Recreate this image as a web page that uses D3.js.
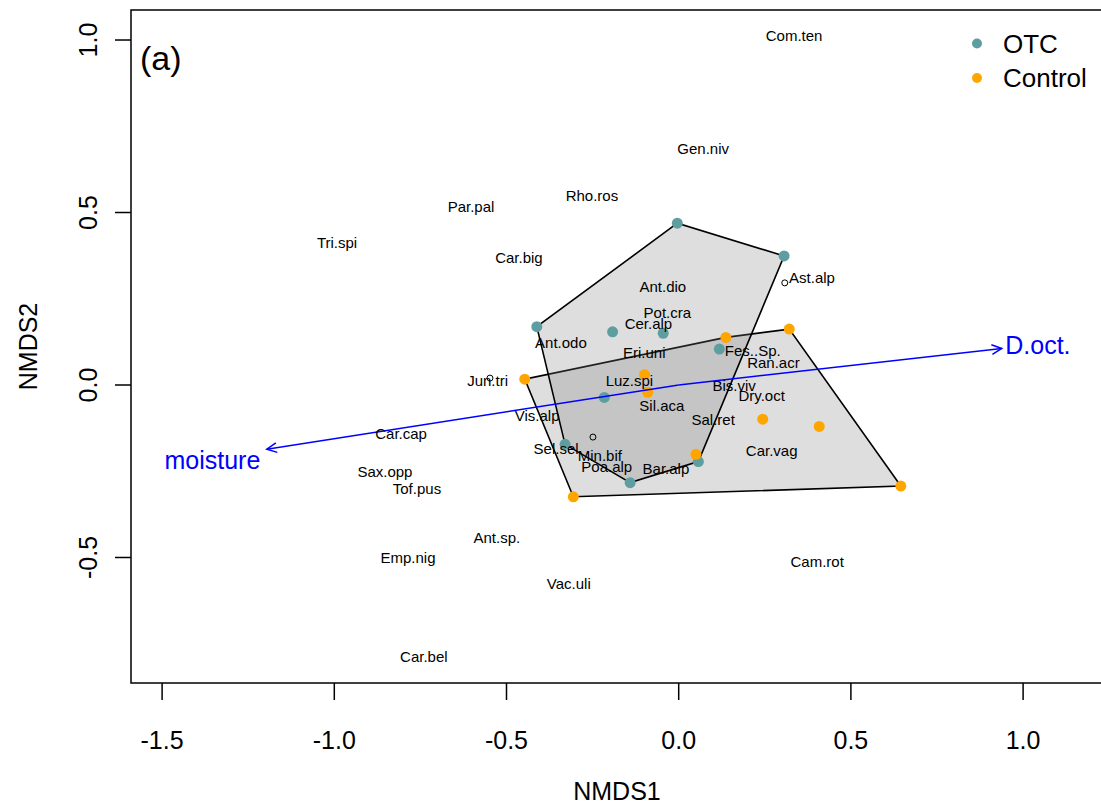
<!DOCTYPE html>
<html>
<head>
<meta charset="utf-8">
<script src="https://cdn.jsdelivr.net/npm/d3@7"></script>
<style>
  html, body { margin: 0; padding: 0; background: #fff; }
  svg { display: block; font-family: "Liberation Sans", Arial, sans-serif; }
</style>
</head>
<body>
<svg id="chart" width="1101" height="805"></svg>
<script>
// ---- data ----
const xTicks = [-1.5, -1.0, -0.5, 0.0, 0.5, 1.0];
const yTicks = [-0.5, 0.0, 0.5, 1.0];

const otcSites = [
  [-0.004, 0.469], [0.306, 0.374], [-0.412, 0.169], [-0.192, 0.154],
  [-0.045, 0.150], [0.118, 0.104], [-0.216, -0.036], [-0.330, -0.172],
  [-0.141, -0.283], [0.057, -0.222]
];
const controlSites = [
  [-0.447, 0.017], [-0.099, 0.030], [-0.090, -0.021], [0.137, 0.138],
  [0.321, 0.162], [0.244, -0.099], [0.408, -0.120], [0.050, -0.201],
  [-0.306, -0.324], [0.645, -0.293]
];

const speciesNames = ["Com.ten","Gen.niv","Rho.ros","Par.pal","Tri.spi","Car.big","Ast.alp",
  "Ant.dio","Pot.cra","Cer.alp","Ant.odo","Eri.uni","Fes..Sp.","Ran.acr","Jun.tri","Luz.spi",
  "Bis.viv","Dry.oct","Sil.aca","Vis.alp","Sal.ret","Car.cap","Sel.sel","Min.bif","Poa.alp",
  "Bar.alp","Car.vag","Sax.opp","Tof.pus","Ant.sp.","Emp.nig","Vac.uli","Cam.rot","Car.bel"];
const speciesX = [0.335,0.071,-0.252,-0.603,-0.992,-0.464,0.387,
  -0.046,-0.033,-0.088,-0.342,-0.100,0.215,0.275,-0.555,-0.143,
  0.161,0.241,-0.049,-0.411,0.100,-0.806,-0.356,-0.229,-0.209,
  -0.037,0.270,-0.853,-0.760,-0.528,-0.786,-0.319,0.402,-0.740];
const speciesY = [1.014,0.684,0.548,0.516,0.412,0.368,0.310,
  0.284,0.211,0.179,0.124,0.094,0.101,0.066,0.012,0.012,
  -0.002,-0.031,-0.061,-0.090,-0.099,-0.142,-0.183,-0.206,-0.237,
  -0.241,-0.190,-0.252,-0.299,-0.443,-0.499,-0.577,-0.513,-0.788];

const openPoints = [[0.308, 0.296], [-0.548, 0.020], [-0.249, -0.151]];

const envNames = ["D.oct.", "moisture"];
const envArrow = [[0.938, 0.106], [-1.196, -0.186]];
const envLabel = [[1.043, 0.116], [-1.354, -0.217]];

const legendLabels = ["OTC", "Control"];
const groupColors = ["#5F9EA0", "#FFA500"];

// ---- layout ----
const svg = d3.select("#chart");
const pL = 131, pR = 1103, pT = 10, pB = 683;
const x = d3.scaleLinear().domain([-1.5903, 1.2320]).range([pL, pR]);
const y = d3.scaleLinear().domain([-0.8638, 1.0870]).range([pB, pT]);

// hulls: control first, then OTC
[controlSites, otcSites].forEach(pts => {
  const hull = d3.polygonHull(pts.map(p => [x(p[0]), y(p[1])]));
  svg.append("path")
    .attr("d", "M" + hull.map(p => p.join(",")).join("L") + "Z")
    .attr("fill", "#808080").attr("fill-opacity", 0.26)
    .attr("stroke", "#000").attr("stroke-width", 1.6);
});

// site points
[[otcSites, groupColors[0]], [controlSites, groupColors[1]]].forEach(([pts, c]) => {
  svg.append("g").selectAll("circle").data(pts).join("circle")
    .attr("cx", d => x(d[0])).attr("cy", d => y(d[1]))
    .attr("r", 5.5).attr("fill", c);
});

// open points
svg.append("g").selectAll("circle").data(openPoints).join("circle")
  .attr("cx", d => x(d[0])).attr("cy", d => y(d[1]))
  .attr("r", 3).attr("fill", "none").attr("stroke", "#000").attr("stroke-width", 1);

// env arrows
const ag = svg.append("g").attr("stroke", "#0000FF").attr("stroke-width", 1.5).attr("fill", "none");
envArrow.forEach(a => {
  const x0 = x(0), y0 = y(0), x1 = x(a[0]), y1 = y(a[1]);
  ag.append("line").attr("x1", x0).attr("y1", y0).attr("x2", x1).attr("y2", y1);
  const ang = Math.atan2(y1 - y0, x1 - x0), L = 11, h = Math.PI / 7;
  const p1 = [x1 - L * Math.cos(ang - h), y1 - L * Math.sin(ang - h)];
  const p2 = [x1 - L * Math.cos(ang + h), y1 - L * Math.sin(ang + h)];
  ag.append("path").attr("d", `M${p1}L${x1},${y1}L${p2}`);
});
svg.append("g").selectAll("text").data(envNames).join("text")
  .attr("x", (d, i) => x(envLabel[i][0])).attr("y", (d, i) => y(envLabel[i][1]))
  .attr("dy", "0.36em").attr("text-anchor", "middle")
  .attr("font-size", 25).attr("fill", "#0000FF").text(d => d);

// species labels
svg.append("g").selectAll("text").data(speciesNames).join("text")
  .attr("x", (d, i) => x(speciesX[i])).attr("y", (d, i) => y(speciesY[i]))
  .attr("dy", "0.36em").attr("text-anchor", "middle")
  .attr("font-size", 15).attr("fill", "#000").text(d => d);

// frame
svg.append("rect").attr("x", pL).attr("y", pT).attr("width", pR - pL).attr("height", pB - pT)
  .attr("fill", "none").attr("stroke", "#000").attr("stroke-width", 1.5);

// x axis
const xa = svg.append("g");
xTicks.forEach(t => {
  xa.append("line").attr("x1", x(t)).attr("x2", x(t)).attr("y1", pB).attr("y2", pB + 17)
    .attr("stroke", "#000").attr("stroke-width", 1.5);
  xa.append("text").attr("x", x(t)).attr("y", 749).attr("text-anchor", "middle")
    .attr("font-size", 25).text(d3.format(".1f")(t).replace("−", "-"));
});
// y axis
const ya = svg.append("g");
yTicks.forEach(t => {
  ya.append("line").attr("x1", pL).attr("x2", pL - 16).attr("y1", y(t)).attr("y2", y(t))
    .attr("stroke", "#000").attr("stroke-width", 1.5);
  ya.append("text").attr("transform", `translate(97,${y(t)}) rotate(-90)`).attr("text-anchor", "middle")
    .attr("font-size", 25).text(d3.format(".1f")(t).replace("−", "-"));
});

// axis titles
svg.append("text").attr("x", (pL + pR) / 2).attr("y", 800).attr("text-anchor", "middle")
  .attr("font-size", 25).text("NMDS1");
svg.append("text").attr("transform", `translate(37,${(pT + pB) / 2}) rotate(-90)`)
  .attr("text-anchor", "middle").attr("font-size", 25).text("NMDS2");

// panel tag
svg.append("text").attr("x", 140).attr("y", 70).attr("font-size", 34).text("(a)");

// legend
const lg = svg.append("g");
legendLabels.forEach((l, i) => {
  const cy = 43.5 + i * 34.5;
  lg.append("circle").attr("cx", 977).attr("cy", cy).attr("r", 5).attr("fill", groupColors[i]);
  lg.append("text").attr("x", 1003).attr("y", cy).attr("dy", "0.36em").attr("font-size", 26).text(l);
});
</script>
</body>
</html>
